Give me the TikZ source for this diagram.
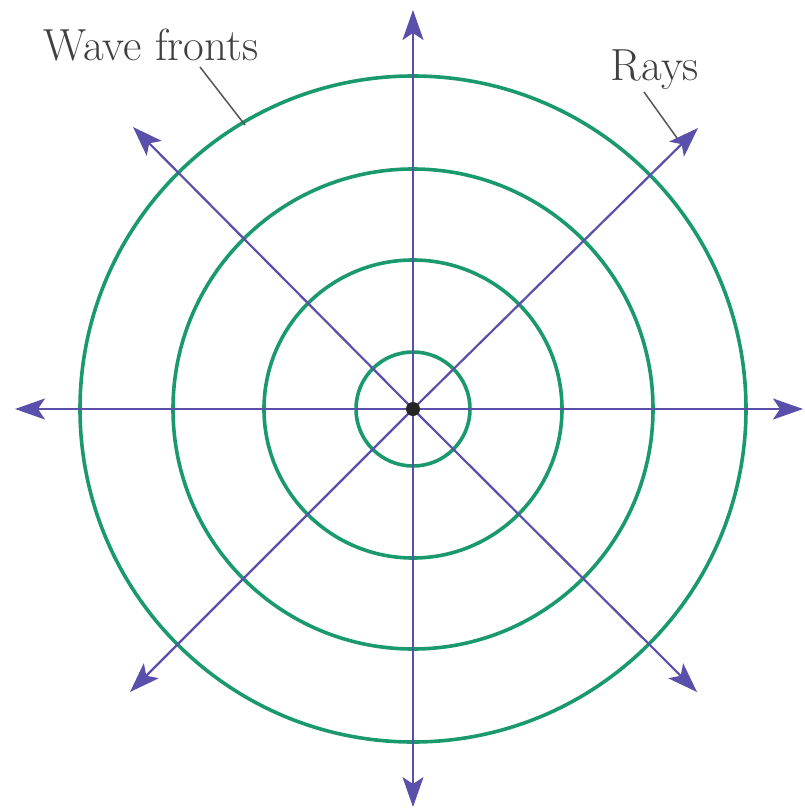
\documentclass[tikz,border=0pt]{standalone}
\usetikzlibrary{arrows.meta}
\definecolor{raycol}{HTML}{5A4FAA}
\definecolor{wavecol}{HTML}{1A9A6C}
\definecolor{leadcol}{HTML}{555555}
\begin{document}
\begin{tikzpicture}[x=1pt,y=-1pt,
  ray/.style={draw=raycol,line width=2.2pt,-{Stealth[length=30pt,width=21pt,inset=7pt]}},
  wave/.style={draw=wavecol,line width=3.6pt},
  lead/.style={draw=leadcol,line width=1.5pt},
  lbl/.style={text=black!75,font=\fontsize{45}{50}\selectfont,inner sep=0pt}]
\useasboundingbox (0,0) rectangle (804,809);
\coordinate (c) at (413,409);
\coordinate (tE) at (803,409);
\coordinate (tW) at (15,409);
\coordinate (tN) at (413,10);
\coordinate (tS) at (413,807);
\coordinate (tNE) at (698,128);
\coordinate (tNW) at (133,127);
\coordinate (tSE) at (697,692);
\coordinate (tSW) at (130,692);
\foreach \r in {57,149,240,333} \draw[wave] (c) circle[radius=\r];
\foreach \t in {tE,tW,tN,tS,tNE,tNW,tSE,tSW} \draw[ray] (c) -- (\t);
\fill[black!85] (c) circle[radius=7];
\node[lbl] (wf) at (151,45) {Wave fronts};
\node[lbl] (rays) at (655,70) {Rays};
\coordinate (wfend) at (245,125);
\coordinate (rend) at (677,138);
\draw[lead] (200,67) -- (wfend);
\draw[lead] (644,92) -- (rend);
\end{tikzpicture}
\end{document}
